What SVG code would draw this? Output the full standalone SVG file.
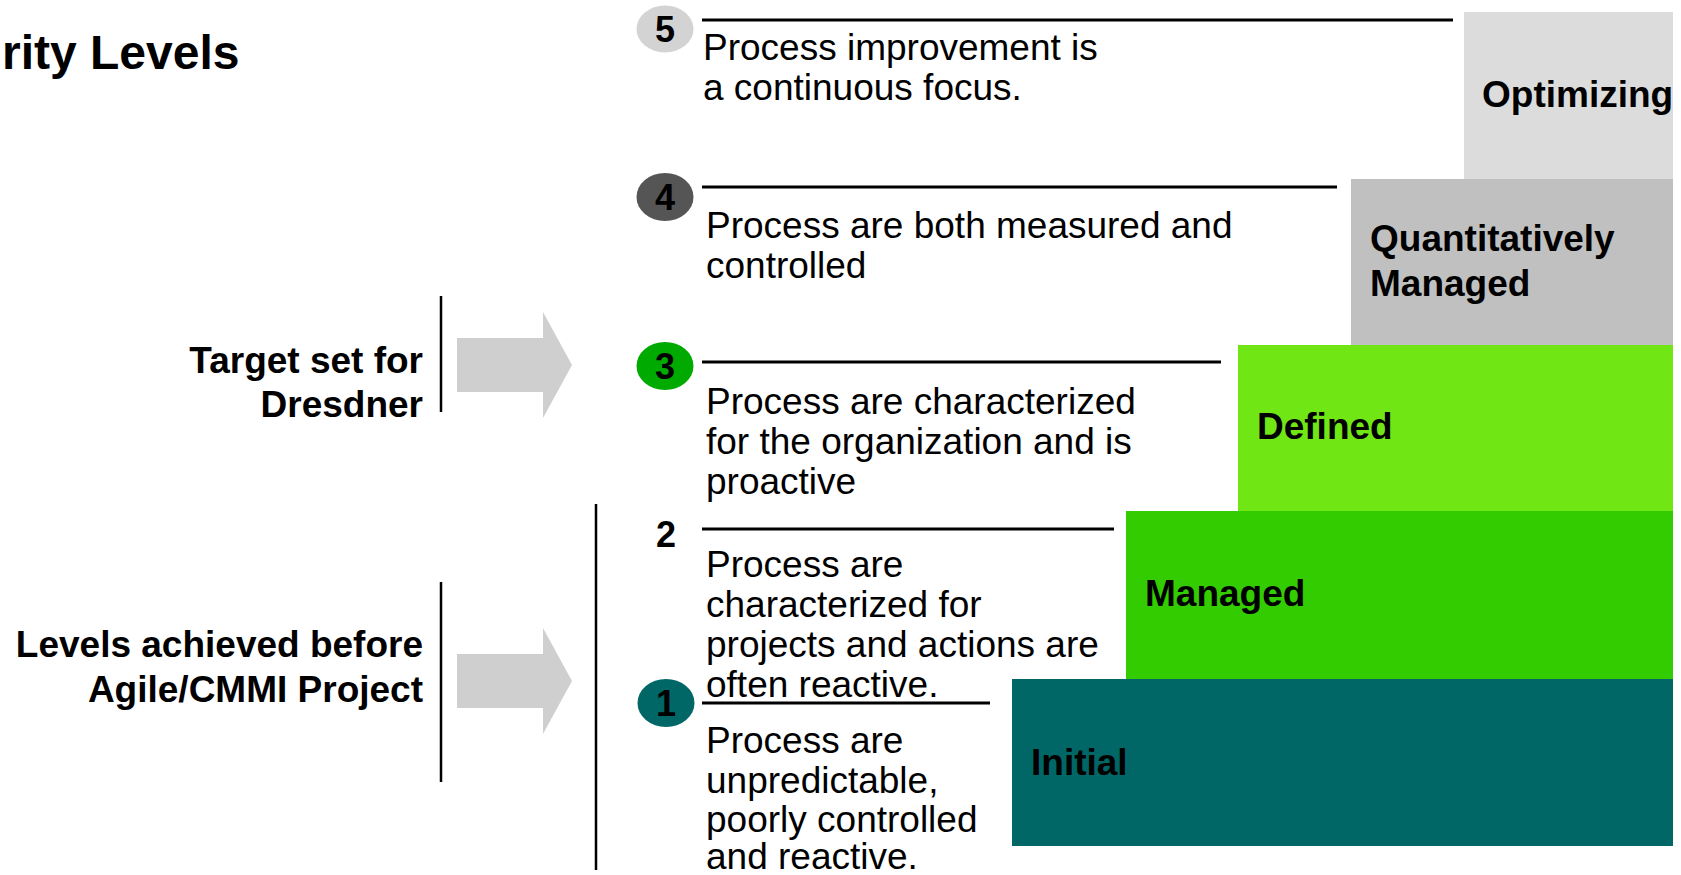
<svg xmlns="http://www.w3.org/2000/svg" width="1681" height="875" viewBox="0 0 1681 875">
  <style>
    .title { font: bold 48px "Liberation Sans", Arial, sans-serif; fill: #000; }
    .side { font: bold 37px "Liberation Sans", Arial, sans-serif; fill: #000; text-anchor: end; }
    .desc { font: 37px "Liberation Sans", Arial, sans-serif; fill: #000; }
    .step { font: bold 37px "Liberation Sans", Arial, sans-serif; fill: #000; }
    .num { font: bold 36px "Liberation Sans", Arial, sans-serif; fill: #000; text-anchor: middle; }
    .rule { stroke: #000; stroke-width: 3; }
    .bar { stroke: #000; stroke-width: 2.5; }
    .arrow { fill: #cfcfcf; }
  </style>
  <defs>
    <!-- block arrow pointing right, tip at origin -->
    <path id="block-arrow" d="M -115 -27 L -29 -27 L -29 -53 L 0 0 L -29 53 L -29 27 L -115 27 Z"/>
  </defs>

  <rect width="1681" height="875" fill="#fff"/>

  <text class="title" x="2" y="69">rity Levels</text>

  <!-- staircase of levels -->
  <g id="step-optimizing">
    <rect x="1464" y="12" width="209" height="168" fill="#dcdcdc"/>
    <text class="step" x="1482" y="107">Optimizing</text>
  </g>
  <g id="step-quantitatively-managed">
    <rect x="1351" y="179" width="322" height="167" fill="#c0c0c0"/>
    <text class="step" x="1370" y="251">Quantitatively</text>
    <text class="step" x="1370" y="296">Managed</text>
  </g>
  <g id="step-defined">
    <rect x="1238" y="345" width="435" height="167" fill="#70e614"/>
    <text class="step" x="1257" y="439">Defined</text>
  </g>
  <g id="step-managed">
    <rect x="1126" y="511" width="547" height="169" fill="#33cc00"/>
    <text class="step" x="1145" y="606">Managed</text>
  </g>
  <g id="step-initial">
    <rect x="1012" y="679" width="661" height="167" fill="#006666"/>
    <text class="step" x="1031" y="775">Initial</text>
  </g>

  <!-- level markers and descriptions -->
  <g id="level-5">
    <ellipse cx="665" cy="29" rx="28.5" ry="23.5" fill="#d3d3d3"/>
    <text class="num" x="665" y="42">5</text>
    <line class="rule" x1="702" y1="20" x2="1453" y2="20"/>
    <text class="desc" x="703" y="60">Process improvement is</text>
    <text class="desc" x="703" y="100">a continuous focus.</text>
  </g>
  <g id="level-4">
    <ellipse cx="665" cy="197" rx="28.5" ry="24" fill="#555555"/>
    <text class="num" x="665" y="210">4</text>
    <line class="rule" x1="702" y1="187" x2="1337" y2="187"/>
    <text class="desc" x="706" y="238">Process are both measured and</text>
    <text class="desc" x="706" y="278">controlled</text>
  </g>
  <g id="level-3">
    <ellipse cx="665" cy="366" rx="28.5" ry="24" fill="#00aa00"/>
    <text class="num" x="665" y="379">3</text>
    <line class="rule" x1="702" y1="362" x2="1221" y2="362"/>
    <text class="desc" x="706" y="414">Process are characterized</text>
    <text class="desc" x="706" y="454">for the organization and is</text>
    <text class="desc" x="706" y="494">proactive</text>
  </g>
  <g id="level-2">
    <text class="num" x="666" y="547">2</text>
    <line class="rule" x1="702" y1="529" x2="1114" y2="529"/>
    <text class="desc" x="706" y="577">Process are</text>
    <text class="desc" x="706" y="617">characterized for</text>
    <text class="desc" x="706" y="657">projects and actions are</text>
    <text class="desc" x="706" y="697">often reactive.</text>
  </g>
  <g id="level-1">
    <ellipse cx="666" cy="703" rx="28.5" ry="24" fill="#006666"/>
    <text class="num" x="666" y="716">1</text>
    <line class="rule" x1="702" y1="703" x2="990" y2="703"/>
    <text class="desc" x="706" y="753">Process are</text>
    <text class="desc" x="706" y="793">unpredictable,</text>
    <text class="desc" x="706" y="832">poorly controlled</text>
    <text class="desc" x="706" y="869">and reactive.</text>
  </g>

  <!-- annotations on the left -->
  <g id="target-label">
    <text class="side" x="423" y="373">Target set for</text>
    <text class="side" x="423" y="417">Dresdner</text>
  </g>
  <g id="achieved-label">
    <text class="side" x="423" y="657">Levels achieved before</text>
    <text class="side" x="423" y="702">Agile/CMMI Project</text>
  </g>

  <g id="connectors">
    <line class="bar" x1="441" y1="296" x2="441" y2="412"/>
    <line class="bar" x1="441" y1="582" x2="441" y2="782"/>
    <line class="bar" x1="596" y1="504" x2="596" y2="870"/>
    <use href="#block-arrow" class="arrow" x="572" y="365"/>
    <use href="#block-arrow" class="arrow" x="572" y="681"/>
  </g>
</svg>
